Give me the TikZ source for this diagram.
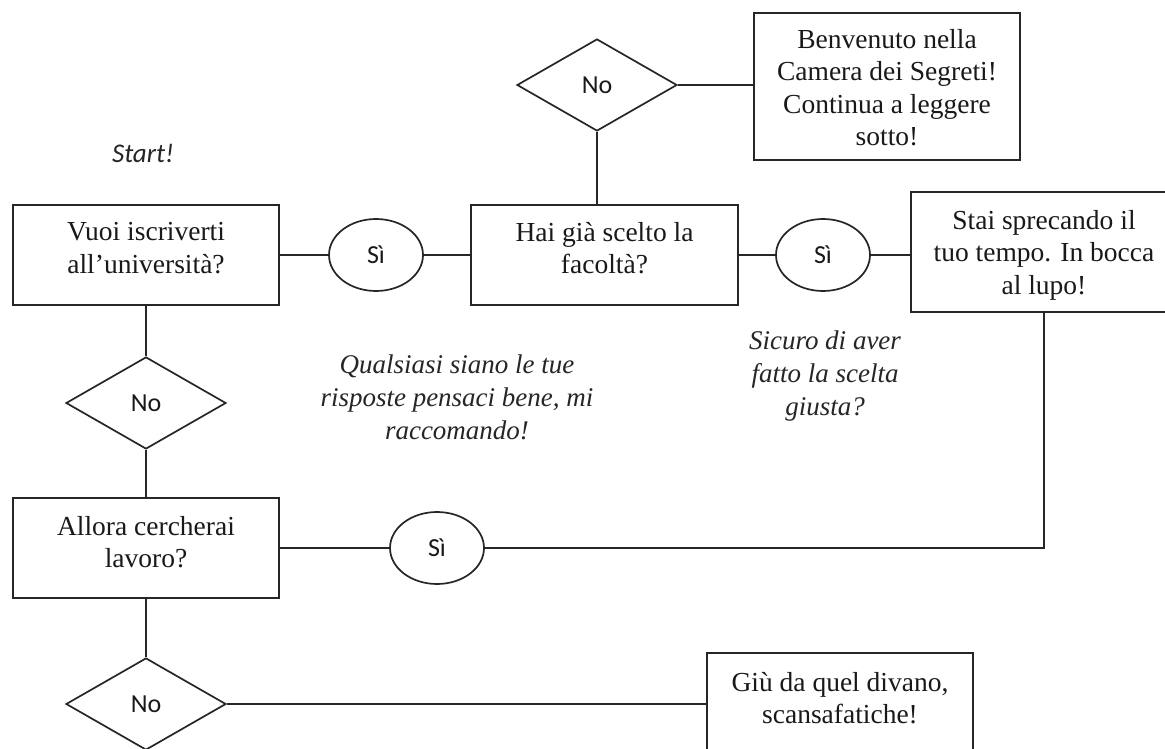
\documentclass[tikz,border=0pt]{standalone}
\usepackage{fontspec}
\setmainfont{Liberation Serif}
\newfontfamily\calib{Carlito}
\usetikzlibrary{shapes.geometric}
\begin{document}
\begin{tikzpicture}[x=1pt,y=-1pt,
  line/.style={draw=black!85, line width=1.7pt},
  box/.style={rectangle, draw=black!85, line width=1.7pt, minimum width=266pt, inner sep=0pt},
  btext/.style={anchor=north, align=center, inner sep=0pt, text=black!90, font=\fontsize{27.5}{32.5}\selectfont},
  itext/.style={align=center, inner sep=0pt, text=black!85, font=\fontsize{27}{33}\selectfont\itshape},
  yes/.style={ellipse, draw=black!85, line width=1.7pt, minimum width=94pt, minimum height=72pt, inner sep=0pt, text=black!90, font=\calib\fontsize{26}{30}\selectfont},
  no/.style={diamond, draw=black!85, line width=1.7pt, minimum width=160pt, minimum height=92pt, inner sep=0pt, text=black!90, font=\calib\fontsize{26}{30}\selectfont}]
\fill[white] (0,0) rectangle (1165,749);
\useasboundingbox (0,0) rectangle (1165,749);

% boxes
\node[box, minimum height=100pt] (b1) at (146,255) {};
\node[btext] (t1) at ([yshift=-18pt]b1.north) {Vuoi iscriverti\\all’università?};
\node[box, minimum width=267pt, minimum height=100pt] (b2) at (604.5,255) {};
\node[btext] (t2) at ([yshift=-18pt]b2.north) {Hai già scelto la\\facoltà?};
\node[box, minimum height=147pt] (b3) at (887,86.5) {};
\node[btext] (t3) at ([yshift=-17pt]b3.north) {Benvenuto nella\\Camera dei Segreti!\\Continua a leggere\\sotto!};
\node[box, minimum height=120pt] (b4) at (1044,252) {};
\node[btext] (t4) at ([yshift=-19pt]b4.north) {Stai sprecando il\\tuo tempo. In bocca\\al lupo!};
\node[box, minimum height=100pt] (b5) at (146,548) {};
\node[btext] (t5) at ([yshift=-19pt]b5.north) {Allora cercherai\\lavoro?};
\node[box, minimum height=100pt] (b6) at (840,703) {};
\node[btext] (t6) at ([yshift=-20pt]b6.north) {Giù da quel divano,\\scansafatiche!};

% decisions
\node[yes] (e1) at (376,255) {Sì};
\node[yes] (e2) at (823,255) {Sì};
\node[yes] (e3) at (437,548) {Sì};
\node[no] (d1) at (597,85) {No};
\node[no] (d2) at (146,403) {No};
\node[no] (d3) at (146,704) {No};

% free texts
\node[inner sep=0pt, text=black!85, font=\calib\itshape\fontsize{27}{30}\selectfont] (st) at (143,153) {Start!};
\node[itext] (q) at (457,397) {Qualsiasi siano le tue\\risposte pensaci bene, mi\\raccomando!};
\node[itext] (s) at (825,376) {Sicuro di aver\\fatto la scelta\\giusta?};

% connectors
\draw[line] (b1.east) -- (e1.west);
\draw[line] (e1.east) -- (b2.west);
\draw[line] (d1.south) -- (d1.south |- b2.north);
\draw[line] (d1.east) -- (d1.east -| b3.west);
\draw[line] (b2.east) -- (e2.west);
\draw[line] (e2.east) -- (e2.east -| b4.west);
\draw[line] (b1.south) -- (d2.north);
\draw[line] (d2.south) -- (b5.north);
\draw[line] (b5.east) -- (e3.west);
\draw[line] (e3.east) -| (b4.south);
\draw[line] (b5.south) -- (d3.north);
\draw[line] (d3.east) -- (d3.east -| b6.west);
\end{tikzpicture}
\end{document}
